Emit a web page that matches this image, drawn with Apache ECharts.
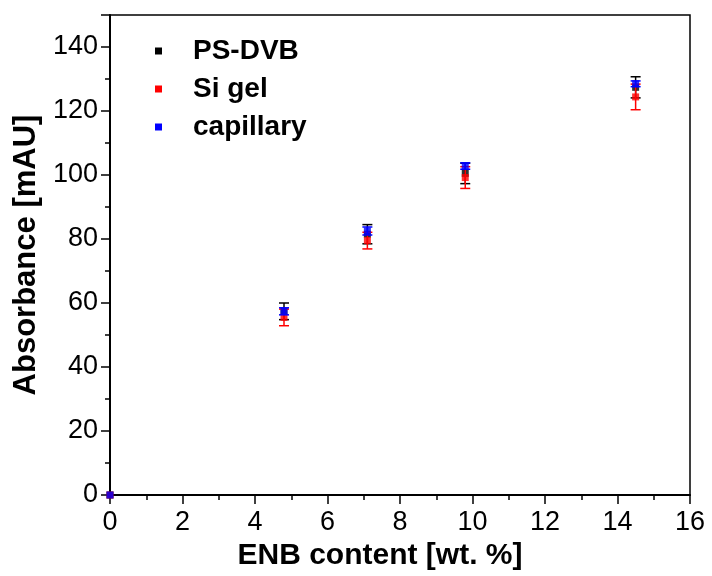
<!DOCTYPE html>
<html><head><meta charset="utf-8">
<script src="https://cdn.jsdelivr.net/npm/echarts@6/dist/echarts.min.js"></script>
<style>html,body{margin:0;padding:0;background:#fff}#c{width:712px;height:576px}</style>
</head><body><div id="c"></div>
<script>
const seriesNames = ['PS-DVB', 'Si gel', 'capillary'];
const colors = ['#000000', '#ff0000', '#0000ff'];
const xValues = [0, 4.8, 7.1, 9.8, 14.5];
const psdvbY = [0, 57.4, 81.5, 100.5, 127.4];
const psdvbErr = [0, 2.6, 3.0, 3.2, 3.3];
const sigelY = [0, 55.5, 79.5, 99.2, 124.4];
const sigelErr = [0, 2.6, 2.6, 3.4, 4.0];
const capY = [0, 57.4, 82.5, 102.8, 128.5];
const capErr = [0, 1.1, 1.25, 1.0, 0.9];

const ys = [psdvbY, sigelY, capY];
const errs = [psdvbErr, sigelErr, capErr];
const font = 'Liberation Sans, Arial, sans-serif';

const series = [];
seriesNames.forEach((name, i) => {
  const errData = xValues.map((x, k) => [x, ys[i][k] - errs[i][k], ys[i][k] + errs[i][k]]);
  series.push({
    name: name, type: 'custom', z: 2 + i * 2,
    renderItem: function (params, api) {
      const x = api.value(0), lo = api.value(1), hi = api.value(2);
      if (hi - lo <= 0) return null;
      const p1 = api.coord([x, lo]), p2 = api.coord([x, hi]);
      const w = 5;
      const st = { stroke: colors[i], lineWidth: 1.5 };
      return { type: 'group', children: [
        { type: 'line', shape: { x1: p1[0], y1: p1[1], x2: p2[0], y2: p2[1] }, style: st },
        { type: 'line', shape: { x1: p1[0] - w, y1: p1[1], x2: p1[0] + w, y2: p1[1] }, style: st },
        { type: 'line', shape: { x1: p2[0] - w, y1: p2[1], x2: p2[0] + w, y2: p2[1] }, style: st }
      ]};
    },
    encode: { x: 0, y: [1, 2] },
    data: errData, silent: true
  });
  series.push({
    name: name, type: 'scatter', z: 3 + i * 2,
    symbol: 'rect', symbolSize: 7,
    itemStyle: { color: colors[i] },
    data: xValues.map((x, k) => [x, ys[i][k]])
  });
});

const chart = echarts.init(document.getElementById('c'), null, { renderer: 'canvas' });
chart.setOption({
  animation: false,
  backgroundColor: '#fff',
  grid: { left: 110, right: 22, top: 15, bottom: 81, show: true, borderColor: '#000', borderWidth: 1.5, backgroundColor: 'transparent' },
  legend: {
    orient: 'vertical', left: 150, top: 32, itemGap: 10,
    itemWidth: 7, itemHeight: 7, icon: 'rect',
    data: seriesNames.map((n, i) => ({ name: n, itemStyle: { color: colors[i] } })),
    textStyle: { fontFamily: font, fontSize: 28, fontWeight: 'bold', color: '#000', padding: [0, 0, 0, 26] }
  },
  xAxis: {
    type: 'value', min: 0, max: 16, interval: 2,
    name: 'ENB content [wt. %]', nameLocation: 'middle', nameGap: 45,
    nameTextStyle: { fontFamily: font, fontSize: 30, fontWeight: 'bold', color: '#000', padding: [0, 40, 0, 0] },
    axisLine: { show: true, lineStyle: { color: '#000', width: 2 } },
    axisTick: { show: true, inside: false, length: 9, lineStyle: { color: '#000', width: 1.5 } },
    minorTick: { show: true, splitNumber: 2, length: 5, lineStyle: { color: '#000', width: 1.5 } },
    splitLine: { show: false },
    axisLabel: { fontFamily: font, fontSize: 27, color: '#000', margin: 14 }
  },
  yAxis: {
    type: 'value', min: 0, max: 150, interval: 20,
    name: 'Absorbance [mAU]', nameLocation: 'middle', nameGap: 59,
    nameTextStyle: { fontFamily: font, fontSize: 31, fontWeight: 'bold', color: '#000' },
    axisLine: { show: true, lineStyle: { color: '#000', width: 2 } },
    axisTick: { show: true, inside: false, length: 9, lineStyle: { color: '#000', width: 1.5 } },
    minorTick: { show: true, splitNumber: 2, length: 5, lineStyle: { color: '#000', width: 1.5 } },
    splitLine: { show: false },
    axisLabel: { fontFamily: font, fontSize: 27, color: '#000', margin: 12, showMaxLabel: false }
  },
  series: series
});
</script>
</body></html>
